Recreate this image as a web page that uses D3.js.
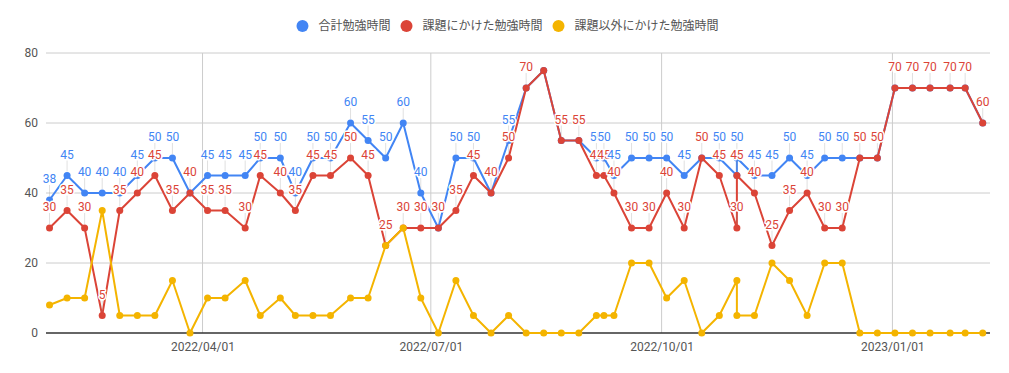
<!DOCTYPE html>
<html>
<head>
<meta charset="utf-8">
<script src="https://cdn.jsdelivr.net/npm/d3@7"></script>
<style>
  body { margin: 0; background: #fff; }
  svg { display: block; font-family: Roboto, "Noto Sans CJK JP", sans-serif; }
</style>
</head>
<body>
<svg id="chart" width="1009" height="373"></svg>
<script>
// weekly study log
const dates = [
  "2022-01-30", "2022-02-06", "2022-02-13", "2022-02-20", "2022-02-27", "2022-03-06",
  "2022-03-13", "2022-03-20", "2022-03-27", "2022-04-03", "2022-04-10", "2022-04-18",
  "2022-04-24", "2022-05-02", "2022-05-08", "2022-05-15", "2022-05-22", "2022-05-30",
  "2022-06-06", "2022-06-13", "2022-06-20", "2022-06-27", "2022-07-04", "2022-07-11",
  "2022-07-18", "2022-07-25", "2022-08-01", "2022-08-08", "2022-08-15", "2022-08-22",
  "2022-08-29", "2022-09-05", "2022-09-08", "2022-09-12", "2022-09-19", "2022-09-26",
  "2022-10-03", "2022-10-10", "2022-10-17", "2022-10-24", "2022-10-31", "2022-10-31",
  "2022-11-07", "2022-11-14", "2022-11-21", "2022-11-28", "2022-12-05", "2022-12-12",
  "2022-12-19", "2022-12-26", "2023-01-02", "2023-01-09", "2023-01-16", "2023-01-24",
  "2023-01-30", "2023-02-06"
];
const totalHours = [
  38, 45, 40, 40, 40, 45, 50, 50, 40, 45, 45, 45, 50, 50, 40, 50, 50, 60, 55, 50,
  60, 40, 30, 50, 50, 40, 55, 70, 75, 55, 55, 50, 50, 45, 50, 50, 50, 45, 50, 50,
  45, 50, 45, 45, 50, 45, 50, 50, 50, 50, 70, 70, 70, 70, 70, 60
];
const taskHours = [
  30, 35, 30, 5, 35, 40, 45, 35, 40, 35, 35, 30, 45, 40, 35, 45, 45, 50, 45, 25,
  30, 30, 30, 35, 45, 40, 50, 70, 75, 55, 55, 45, 45, 40, 30, 30, 40, 30, 50, 45,
  30, 45, 40, 25, 35, 40, 30, 30, 50, 50, 70, 70, 70, 70, 70, 60
];
const otherHours = [
  8, 10, 10, 35, 5, 5, 5, 15, 0, 10, 10, 15, 5, 10, 5, 5, 5, 10, 10, 25,
  30, 10, 0, 15, 5, 0, 5, 0, 0, 0, 0, 5, 5, 5, 20, 20, 10, 15, 0, 5,
  15, 5, 5, 20, 15, 5, 20, 20, 0, 0, 0, 0, 0, 0, 0, 0
];
const seriesNames = ["合計勉強時間", "課題にかけた勉強時間", "課題以外にかけた勉強時間"];
const yTicks = [0, 20, 40, 60, 80];
// labels the original chart dropped because they collided
const hiddenTotalLabels = [40];
const hiddenTaskLabels = [28];

const parse = d3.timeParse("%Y-%m-%d");
const rows = dates.map((d, i) => ({
  i,
  date: parse(d),
  total: totalHours[i],
  task: taskHours[i],
  other: otherHours[i]
}));

const svg = d3.select("#chart");
const plotLeft = 46, plotRight = 990, plotTop = 53, plotBottom = 333;

const x = d3.scaleTime()
  .domain([new Date(2022, 0, 28, 14, 24), new Date(2023, 1, 8, 21, 36)])
  .range([plotLeft, plotRight]);
const y = d3.scaleLinear().domain([0, 80]).range([plotBottom, plotTop]);

const colors = ["#4285f4", "#db4437", "#f4b400"];

// grid
svg.append("g")
  .selectAll("line")
  .data(yTicks.filter(t => t > 0))
  .join("line")
  .attr("x1", plotLeft).attr("x2", plotRight)
  .attr("y1", d => y(d)).attr("y2", d => y(d))
  .attr("stroke", "#cccccc");

const xTicks = x.ticks(d3.timeMonth.every(3));
svg.append("g")
  .selectAll("line")
  .data(xTicks)
  .join("line")
  .attr("x1", d => x(d)).attr("x2", d => x(d))
  .attr("y1", plotTop).attr("y2", plotBottom)
  .attr("stroke", "#cccccc");

// axes
const yAxis = d3.axisLeft(y).tickValues(yTicks).tickSize(0).tickPadding(8);
svg.append("g")
  .attr("transform", `translate(${plotLeft},0)`)
  .call(yAxis)
  .call(g => g.select(".domain").remove())
  .call(g => g.selectAll("text").attr("fill", "#555").attr("font-size", 12)
    .attr("font-family", "Roboto, sans-serif"));

const xAxis = d3.axisBottom(x).tickValues(xTicks).tickSize(0).tickPadding(9)
  .tickFormat(d3.timeFormat("%Y/%m/%d"));
svg.append("g")
  .attr("transform", `translate(0,${plotBottom})`)
  .call(xAxis)
  .call(g => g.select(".domain").remove())
  .call(g => g.selectAll("text").attr("fill", "#555").attr("font-size", 12)
    .attr("font-family", "Roboto, sans-serif"));

svg.append("line")
  .attr("x1", plotLeft).attr("x2", plotRight)
  .attr("y1", y(0)).attr("y2", y(0))
  .attr("stroke", "#333").attr("stroke-width", 1.5);

// lines + points
const keys = ["total", "task", "other"];
keys.forEach((k, s) => {
  const line = d3.line().x(d => x(d.date)).y(d => y(d[k]));
  svg.append("path")
    .datum(rows)
    .attr("fill", "none")
    .attr("stroke", colors[s])
    .attr("stroke-width", 2)
    .attr("stroke-linejoin", "round")
    .attr("d", line);
  svg.append("g")
    .selectAll("circle")
    .data(rows)
    .join("circle")
    .attr("cx", d => x(d.date))
    .attr("cy", d => y(d[k]))
    .attr("r", 3.5)
    .attr("fill", colors[s]);
});

// annotations (total + task only)
const labelData = [];
rows.forEach(d => {
  if (d.total !== d.task && !hiddenTotalLabels.includes(d.i))
    labelData.push({ d, v: d.total, c: colors[0] });
  if (!hiddenTaskLabels.includes(d.i))
    labelData.push({ d, v: d.task, c: colors[1] });
});

svg.append("g")
  .selectAll("line")
  .data(labelData)
  .join("line")
  .attr("x1", a => x(a.d.date)).attr("x2", a => x(a.d.date))
  .attr("y1", a => y(a.v) - 4).attr("y2", a => y(a.v) - 15)
  .attr("stroke", "#999").attr("stroke-opacity", 0.3);

svg.append("g")
  .selectAll("text")
  .data(labelData)
  .join("text")
  .attr("x", a => x(a.d.date))
  .attr("y", a => y(a.v) - 17)
  .attr("text-anchor", "middle")
  .attr("font-size", 12)
  .attr("font-family", "Roboto, sans-serif")
  .attr("fill", a => a.c)
  .attr("stroke", "#fff")
  .attr("stroke-width", 3)
  .attr("stroke-linejoin", "round")
  .attr("paint-order", "stroke")
  .text(a => a.v);

// legend, centred above the plot
const legend = svg.append("g");
const items = legend.selectAll("g")
  .data(seriesNames)
  .join("g");
items.append("circle").attr("r", 6).attr("cy", 26).attr("fill", (d, i) => colors[i]);
items.append("text")
  .attr("x", 16).attr("y", 26).attr("dy", "0.35em")
  .attr("font-size", 12).attr("fill", "#555")
  .text(d => d);
let cursor = 0;
items.each(function () {
  const w = d3.select(this).select("text").node().getComputedTextLength();
  d3.select(this).attr("transform", `translate(${cursor + 6},0)`);
  cursor += 12 + 4 + w + 16;
});
const legendWidth = cursor - 16;
legend.attr("transform", `translate(${(1009 - legendWidth) / 2},0)`);
</script>
</body>
</html>
